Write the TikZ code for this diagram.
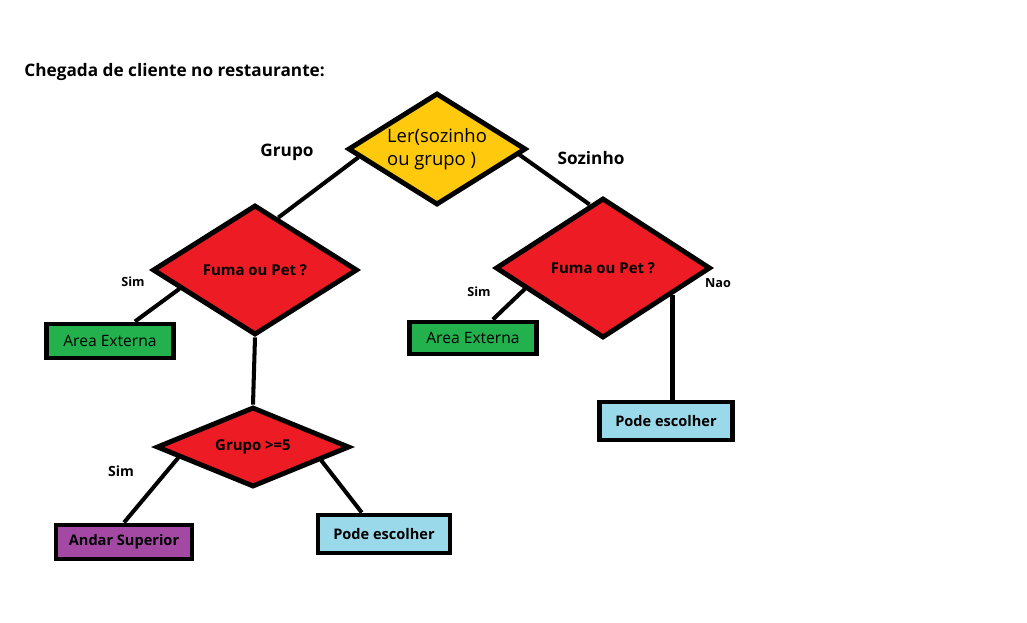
\documentclass[tikz,border=0pt]{standalone}
\usepackage{fontspec}
\setmainfont{Open Sans}
\usetikzlibrary{shapes.geometric}
\definecolor{paintyellow}{RGB}{255,201,14}
\definecolor{paintred}{RGB}{237,28,36}
\definecolor{paintgreen}{RGB}{34,177,76}
\definecolor{paintblue}{RGB}{153,217,234}
\definecolor{paintpurple}{RGB}{163,73,164}
\begin{document}
\begin{tikzpicture}[x=0.02cm, y=-0.02cm,
                decision/.style={diamond, draw, line width=2.8pt, inner sep=0pt, aspect=2, fill=paintred,
                    font=\bfseries\fontsize{8.5}{10}\selectfont},
                outcome/.style={rectangle, draw, line width=2.8pt, inner sep=0pt,
                    font=\bfseries\fontsize{8.3}{10}\selectfont},
                link/.style={line width=2.3pt},
                branch/.style={font=\bfseries\fontsize{9.8}{12}\selectfont},
                answer/.style={font=\bfseries\fontsize{7.2}{9}\selectfont}]

                \useasboundingbox (0,0) rectangle (1027,622);

                \node[anchor=west, branch, inner sep=0pt] (title) at (24,72) {Chegada de cliente no restaurante:};

                \node[decision, fill=paintyellow, aspect=1.5, minimum width=3.56cm, minimum height=2.24cm,
                    align=left, font=\fontsize{10.5}{13}\selectfont] (ler) at (437,149) {Ler(sozinho\\ou grupo )};
                \node[decision, minimum width=4.1cm, minimum height=2.6cm] (fumaG) at (255,270) {Fuma ou Pet ?};
                \node[decision, minimum width=4.3cm, minimum height=2.8cm] (fumaS) at (603,268) {Fuma ou Pet ?};
                \node[decision, minimum width=3.86cm, minimum height=1.6cm] (grupo) at (253,447) {Grupo >=5};

                \node[outcome, fill=paintgreen, minimum width=2.54cm, minimum height=0.68cm,
                    font=\fontsize{8.9}{10}\selectfont] (externaG) at (110,341) {Area Externa};
                \node[outcome, fill=paintgreen, minimum width=2.54cm, minimum height=0.64cm,
                    font=\fontsize{8.9}{10}\selectfont] (externaS) at (473,338) {Area Externa};
                \node[outcome, fill=paintblue, minimum width=2.66cm, minimum height=0.76cm] (escolherS) at (666,421) {Pode escolher};
                \node[outcome, fill=paintpurple, minimum width=2.72cm, minimum height=0.68cm] (superior) at (124,542) {Andar Superior};
                \node[outcome, fill=paintblue, minimum width=2.64cm, minimum height=0.76cm] (escolherG) at (384,534) {Pode escolher};

                \draw[link] (ler.186) -- (fumaG.66);
                \draw[link] (ler.356) -- (fumaS.102);
                \draw[link] (fumaG.194) -- (externaG.38);
                \draw[link] (fumaG.south) -- (grupo.north);
                \draw[link] (grupo.188) -- (superior.north);
                \draw[link] (grupo.349) -- (escolherG.136);
                \draw[link] (fumaS.195) -- (externaS.43);
                \draw[link] (fumaS.339) -- (fumaS.339 |- escolherS.north);

                \node[branch] (grupoTag) at (287,152) {Grupo};
                \node[branch] (sozinhoTag) at (591,158) {Sozinho};
                \node[answer] (simG) at (133,282) {Sim};
                \node[answer] (simS) at (479,292) {Sim};
                \node[answer] (naoS) at (718,283) {Nao};
                \node[answer, font=\bfseries\fontsize{8}{9}\selectfont] (simGrupo) at (121,471) {Sim};

            \end{tikzpicture}
\end{document}
